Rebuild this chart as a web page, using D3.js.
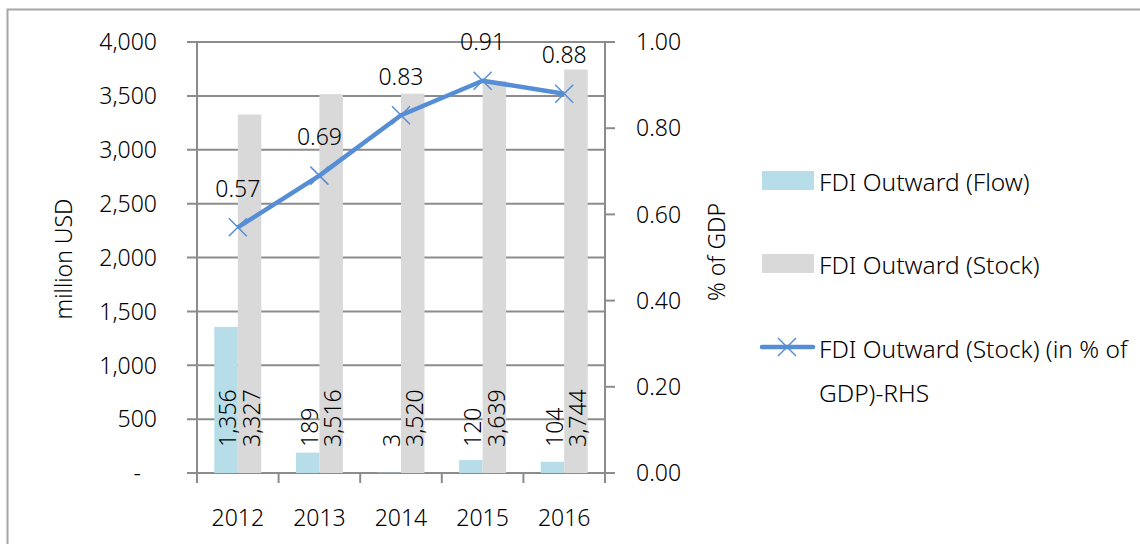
<!DOCTYPE html>
<html>
<head>
<meta charset="utf-8">
<script src="https://cdn.jsdelivr.net/npm/d3@7"></script>
<style>
  body { margin: 0; background: #fff; }
  text { font-family: "Noto Sans", "Open Sans", sans-serif; font-weight: 300; fill: #000; }
</style>
</head>
<body>
<div id="chart"></div>
<script>
const years = ["2012", "2013", "2014", "2015", "2016"];
const flowValues = [1356, 189, 3, 120, 104];
const stockValues = [3327, 3516, 3520, 3639, 3744];
const gdpShare = [0.57, 0.69, 0.83, 0.91, 0.88];
const leftTicks = [0, 500, 1000, 1500, 2000, 2500, 3000, 3500, 4000];
const rightTicks = [0, 0.2, 0.4, 0.6, 0.8, 1.0];

const width = 1140, height = 544;
const fontSize = 23;
const legendSize = 24.5;
const flowColor = "#b7dee8", stockColor = "#d9d9d9", lineColor = "#558ed5";
const gridColor = "#8c8c8c";

const svg = d3.select("#chart").append("svg")
    .attr("width", width)
    .attr("height", height);

// frame of the cropped picture
svg.append("path")
    .attr("d", `M7.5,${height} V9.5 H${width}`)
    .attr("fill", "none")
    .attr("stroke", "#a6a6a6")
    .attr("stroke-width", 2);

const x = d3.scaleBand().domain(years).range([197, 605]);
const yLeft = d3.scaleLinear().domain([0, 4000]).range([473, 42]);
const yRight = d3.scaleLinear().domain([0, 1]).range([473, 42]);

const barW = 23.5;

// gridlines + left ticks
svg.append("g")
    .selectAll("line")
    .data(leftTicks)
    .join("line")
    .attr("x1", 187).attr("x2", 605)
    .attr("y1", d => yLeft(d)).attr("y2", d => yLeft(d))
    .attr("stroke", gridColor)
    .attr("stroke-width", 2);

// left axis line
svg.append("line")
    .attr("x1", 197).attr("x2", 197)
    .attr("y1", yLeft(4000)).attr("y2", yLeft(0) + 10)
    .attr("stroke", gridColor).attr("stroke-width", 2);

// category ticks below the x axis
svg.append("g")
    .selectAll("line")
    .data(years.concat(["end"]))
    .join("line")
    .attr("x1", (d, i) => 197 + i * x.bandwidth())
    .attr("x2", (d, i) => 197 + i * x.bandwidth())
    .attr("y1", yLeft(0)).attr("y2", yLeft(0) + 10)
    .attr("stroke", gridColor).attr("stroke-width", 2);

// right axis
svg.append("line")
    .attr("x1", 605).attr("x2", 605)
    .attr("y1", yRight(1)).attr("y2", yRight(0) + 10)
    .attr("stroke", gridColor).attr("stroke-width", 2);
svg.append("g")
    .selectAll("line")
    .data(rightTicks)
    .join("line")
    .attr("x1", 605).attr("x2", 615)
    .attr("y1", d => yRight(d)).attr("y2", d => yRight(d))
    .attr("stroke", gridColor).attr("stroke-width", 2);

// left tick labels
svg.append("g")
    .selectAll("text")
    .data(leftTicks)
    .join("text")
    .attr("x", d => d === 0 ? 141 : 157)
    .attr("y", d => yLeft(d))
    .attr("dy", "0.36em")
    .attr("text-anchor", "end")
    .style("font-size", fontSize + "px")
    .text(d => d === 0 ? "-" : d3.format(",")(d));

// right tick labels
svg.append("g")
    .selectAll("text")
    .data(rightTicks)
    .join("text")
    .attr("x", 636)
    .attr("y", d => yRight(d))
    .attr("dy", "0.36em")
    .style("font-size", fontSize + "px")
    .text(d => d.toFixed(2));

// x labels
svg.append("g")
    .selectAll("text")
    .data(years)
    .join("text")
    .attr("x", d => x(d) + x.bandwidth() / 2)
    .attr("y", 518)
    .attr("dy", "0.36em")
    .attr("text-anchor", "middle")
    .style("font-size", fontSize + "px")
    .text(d => d);

// axis titles
svg.append("text")
    .attr("transform", "translate(64,259) rotate(-90)")
    .attr("dy", "0.36em")
    .attr("text-anchor", "middle")
    .style("font-size", fontSize + "px")
    .text("million USD");
svg.append("text")
    .attr("transform", "translate(717,252) rotate(-90)")
    .attr("dy", "0.36em")
    .attr("text-anchor", "middle")
    .style("font-size", fontSize + "px")
    .text("% of GDP");

// bars
const center = d => x(d) + x.bandwidth() / 2;
svg.append("g")
    .selectAll("rect")
    .data(years)
    .join("rect")
    .attr("x", d => center(d) - barW)
    .attr("width", barW)
    .attr("y", (d, i) => yLeft(flowValues[i]))
    .attr("height", (d, i) => yLeft(0) - yLeft(flowValues[i]))
    .attr("fill", flowColor);
svg.append("g")
    .selectAll("rect")
    .data(years)
    .join("rect")
    .attr("x", d => center(d))
    .attr("width", barW)
    .attr("y", (d, i) => yLeft(stockValues[i]))
    .attr("height", (d, i) => yLeft(0) - yLeft(stockValues[i]))
    .attr("fill", stockColor);

// bar value labels (rotated, inside base)
const barLabels = svg.append("g");
years.forEach((d, i) => {
    [[flowValues[i], center(d) - barW / 2], [stockValues[i], center(d) + barW / 2]].forEach(([v, cx]) => {
        barLabels.append("text")
            .attr("transform", `translate(${cx + 2},${yLeft(0) - 26}) rotate(-90)`)
            .attr("dy", "0.36em")
            .style("font-size", fontSize + "px")
            .text(d3.format(",")(v));
    });
});

// line
const line = d3.line()
    .x((d, i) => center(years[i]))
    .y(d => yRight(d));
svg.append("path")
    .datum(gdpShare)
    .attr("d", line)
    .attr("fill", "none")
    .attr("stroke", lineColor)
    .attr("stroke-width", 4.5)
    .attr("stroke-linejoin", "round");

function cross(g, cx, cy, s) {
    g.append("path")
        .attr("d", `M${cx - s},${cy - s}L${cx + s},${cy + s}M${cx - s},${cy + s}L${cx + s},${cy - s}`)
        .attr("stroke", lineColor)
        .attr("stroke-width", 1.5)
        .attr("fill", "none");
}
const markers = svg.append("g");
gdpShare.forEach((v, i) => cross(markers, center(years[i]), yRight(v), 9));

svg.append("g")
    .selectAll("text")
    .data(gdpShare)
    .join("text")
    .attr("x", (d, i) => center(years[i]))
    .attr("y", d => yRight(d) - 39)
    .attr("dy", "0.36em")
    .attr("text-anchor", "middle")
    .style("font-size", fontSize + "px")
    .text(d => d.toFixed(2));

// legend
const legend = svg.append("g");
legend.append("rect").attr("x", 762).attr("y", 171).attr("width", 52).attr("height", 19).attr("fill", flowColor);
legend.append("text").attr("x", 819).attr("y", 182).attr("dy", "0.36em")
    .style("font-size", legendSize + "px").text("FDI Outward (Flow)");
legend.append("rect").attr("x", 762).attr("y", 254).attr("width", 52).attr("height", 19).attr("fill", stockColor);
legend.append("text").attr("x", 819).attr("y", 265).attr("dy", "0.36em")
    .style("font-size", legendSize + "px").text("FDI Outward (Stock)");
legend.append("line").attr("x1", 762).attr("x2", 813).attr("y1", 347).attr("y2", 347)
    .attr("stroke", lineColor).attr("stroke-width", 4.5).attr("stroke-linecap", "round");
cross(legend, 787, 347, 9);
legend.append("text").attr("x", 819).attr("y", 349).attr("dy", "0.36em")
    .style("font-size", legendSize + "px").text("FDI Outward (Stock) (in % of");
legend.append("text").attr("x", 819).attr("y", 393).attr("dy", "0.36em")
    .style("font-size", legendSize + "px").text("GDP)-RHS");
</script>
</body>
</html>
